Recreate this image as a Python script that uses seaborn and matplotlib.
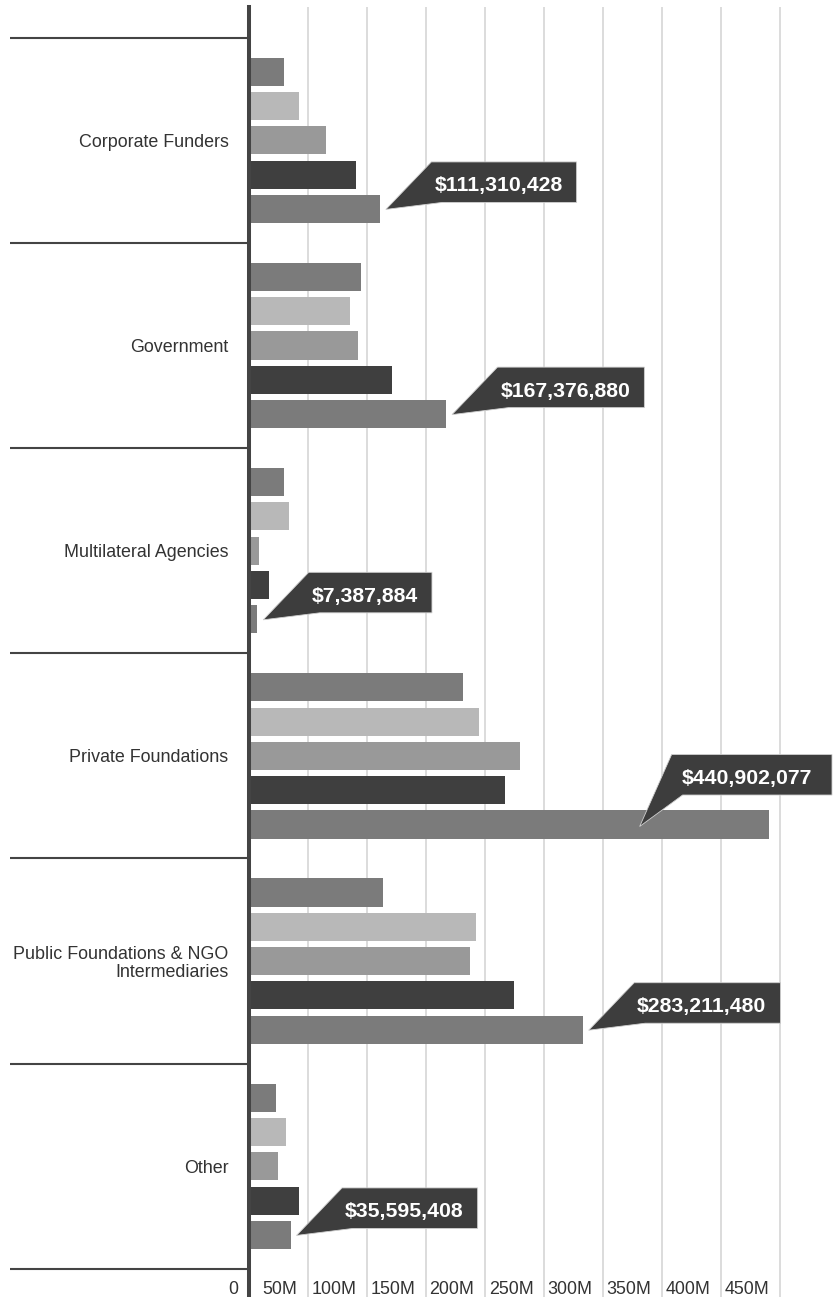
import numpy as np
import pandas as pd
import matplotlib
matplotlib.use("Agg")
import matplotlib.pyplot as plt
import seaborn as sns
from matplotlib.patches import Polygon
from matplotlib.transforms import IdentityTransform, blended_transform_factory, offset_copy

# ---------------- data ----------------
categories = ["Corporate Funders", "Government", "Multilateral Agencies",
              "Private Foundations", "Public Foundations & NGO\nIntermediaries", "Other"]
series = ["Series 1", "Series 2", "Series 3", "Series 4", "Series 5"]
# values in millions of dollars
s1 = [30.3, 95.0, 30.5, 181.4, 113.6, 23.7]
s2 = [42.4, 86.4, 33.9, 195.0, 193.2, 32.2]
s3 = [65.8, 93.0, 8.5, 230.5, 188.1, 25.4]
s4 = [91.5, 122.0, 17.0, 217.0, 225.4, 42.4]
s5 = [111.310428, 167.376880, 7.387884, 440.902077, 283.211480, 35.595408]
callout_labels = ["$111,310,428", "$167,376,880", "$7,387,884",
                  "$440,902,077", "$283,211,480", "$35,595,408"]
tick_values = [0, 50, 100, 150, 200, 250, 300, 350, 400, 450]
tick_labels = ["0", "50M", "100M", "150M", "200M", "250M", "300M", "350M", "400M", "450M"]
colors = ["#7b7b7b", "#b8b8b8", "#999999", "#3f3f3f", "#7b7b7b"]

rows = []
for name, vals in zip(series, [s1, s2, s3, s4, s5]):
    for c, v in zip(categories, vals):
        rows.append({"category": c, "series": name, "value": v})
df = pd.DataFrame(rows)

# ---------------- style ----------------
sns.set_style("white")
plt.rcParams["font.family"] = ["Liberation Sans", "DejaVu Sans"]

W, H = 836, 1297
fig = plt.figure(figsize=(W / 100, H / 100), dpi=100)
x0_px = 248.5
top_px = 7
ax = fig.add_axes([x0_px / W, 0, (W - x0_px) / W, (H - top_px) / H])

sns.barplot(data=df, x="value", y="category", hue="series", orient="h",
            order=categories, hue_order=series, palette=colors,
            width=0.836, gap=0.18, linewidth=0, legend=False, ax=ax, errorbar=None)

ax.set_xlabel("")
ax.set_ylabel("")

# grid
ax.set_xticks(tick_values)
ax.tick_params(axis="x", length=0, labelbottom=False)
ax.grid(axis="x", color="#dcdcdc", linewidth=1.44)
ax.grid(axis="y", visible=False)
ax.set_axisbelow(True)

# spines
for s in ["top", "right", "bottom"]:
    ax.spines[s].set_visible(False)
ax.spines["left"].set_color("#444444")
ax.spines["left"].set_linewidth(2.9)
ax.spines["left"].set_zorder(4)

# y labels
ax.tick_params(axis="y", length=0, pad=14.4, labelsize=12.9, labelcolor="#333333")
for lbl in ax.get_yticklabels():
    lbl.set_linespacing(1.1)

# group separators on the left
sep_trans = blended_transform_factory(ax.transAxes, ax.transData)
x_left = -(x0_px - 10) / (W - x0_px)
for yb in np.arange(-0.5, len(categories), 1.0):
    ax.plot([x_left, 0], [yb, yb], color="#444444", linewidth=1.5,
            transform=sep_trans, clip_on=False, solid_capstyle="butt", zorder=3)

# limits
ax.set_xlim(0, (W - x0_px) / 1.18)
grp_px = 205.2
ax.set_ylim(len(categories) - 0.5 + 28.1 / grp_px, -0.5 - 30.7 / grp_px)

# x tick labels inside the axes at the bottom
lab_trans = offset_copy(blended_transform_factory(ax.transData, ax.transAxes),
                        fig=fig, x=-10, y=0, units="dots")
for v, t in zip(tick_values, tick_labels):
    ax.text(v, 8 / (H - top_px), t, transform=lab_trans, ha="right", va="center",
            fontsize=12.9, color="#333333")

# ---------------- callouts ----------------
fig.canvas.draw()
renderer = fig.canvas.get_renderer()
for bar, lab in zip(ax.containers[4], callout_labels):
    xe, yc = ax.transData.transform((bar.get_x() + bar.get_width(),
                                     bar.get_y() + bar.get_height() / 2))
    txt = fig.text(0, 0, lab, transform=IdentityTransform(), fontsize=15.3,
                   fontweight="bold", color="white", ha="left", va="baseline", zorder=7)
    w = txt.get_window_extent(renderer).width
    tx, ty = xe + 6, yc - 0.5
    cx, cy = tx + 45.5, ty + 47.5
    right = cx + 3 + w + 14
    pad_r = 14
    if right > W - 3:
        right = W - 4
        cx = right - (w + 30)
        tx, ty = cx - 32, yc - 2
        cy = ty + 72
        pad_r = 20
    bottom = cy - 40.5
    poly = Polygon([(cx, cy), (right, cy), (right, bottom), (cx + 11, bottom), (tx, ty)],
                   closed=True, transform=IdentityTransform(), facecolor="#3d3d3d",
                   edgecolor="#cfcfcf", linewidth=0.6, zorder=6)
    fig.add_artist(poly)
    txt.set_position((right - pad_r - w, bottom + 11))

fig.savefig("out.png", dpi=100)
